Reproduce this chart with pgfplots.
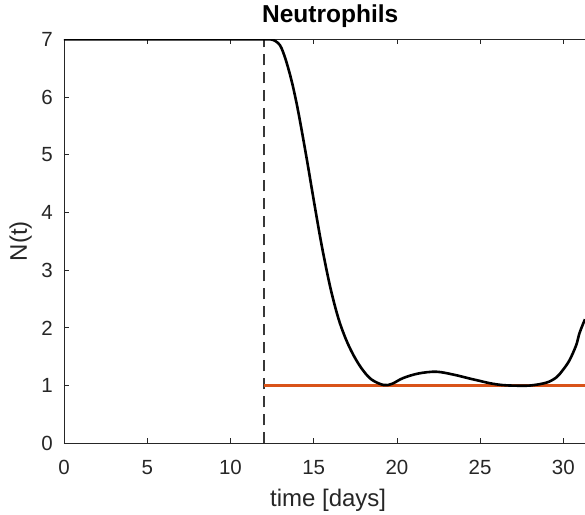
\documentclass[border=0pt]{standalone}
\usepackage{pgfplots}
\pgfplotsset{compat=1.18}
\usepackage{fontspec}
\setmainfont{Liberation Sans}
\definecolor{axgray}{RGB}{38,38,38}
\definecolor{mlorange}{RGB}{217,83,25}
\definecolor{dashgray}{RGB}{55,55,55}
\begin{document}
\begin{tikzpicture}
\path[use as bounding box] (-64pt,-70.7pt) rectangle (521pt,443.3pt);
\begin{axis}[
  at={(0pt,0pt)}, anchor=south west,
  scale only axis, width=521pt, height=404pt,
  xmin=0, xmax=31.3, ymin=0, ymax=7,
  xtick={0,5,10,15,20,25,30}, ytick={0,1,2,3,4,5,6,7},
  axis y line*=left,
  axis line style={axgray, line width=0.8pt},
  tick style={axgray, line width=0.8pt},
  major tick length=5pt, tick align=inside,
  /pgf/number format/assume math mode=true,
  ticklabel style={font=\fontsize{20.5}{24}\selectfont, text=axgray},
  yticklabel style={inner sep=0pt, anchor=east, xshift=-11pt},
  xticklabel style={inner sep=0pt, anchor=base, yshift=-30.7pt},
  title={Neutrophils},
  title style={at={(0.511,1)}, anchor=base, yshift=11pt, inner sep=0pt, font=\fontsize{24.5}{28}\selectfont\bfseries, text=black},
  xlabel={time [days]},
  xlabel style={at={(0.507,0)}, anchor=base, yshift=-63.4pt, inner sep=0pt, font=\fontsize{24}{28}\selectfont, text=axgray},
  ylabel={N(t)},
  ylabel style={at={(-0.083,0.5)}, anchor=center, inner sep=0pt, font=\fontsize{24}{28}\selectfont, text=axgray},
]
\addplot[dashgray, line width=1.9pt, dash pattern=on 11pt off 7pt] coordinates {(12,0) (12,7)};
\addplot[mlorange, line width=2.3pt] coordinates {(12,1) (31.3,1)};
\addplot[black, line width=2.6pt, smooth, tension=0.55] coordinates {
(0,7) (6,7) (12,7) (12.4,7) (12.7,6.97) (12.97,6.90) (13.16,6.78) (13.37,6.60)
(13.7,6.25) (14.07,5.75) (14.57,4.95) (15.07,4.10) (15.5,3.40) (16.0,2.70)
(16.5,2.15) (17.0,1.76) (17.5,1.47) (18.0,1.25) (18.5,1.10)
(19.2,1.01) (19.7,1.03) (20.37,1.13) (21.3,1.21) (22.37,1.24) (23.4,1.19)
(24.4,1.12) (25,1.08) (25.6,1.04) (26.3,1.01) (26.97,1.0) (27.95,1.0)
(28.97,1.05) (29.57,1.14) (29.97,1.27) (30.37,1.44) (30.77,1.70) (30.97,1.91) (31.3,2.15)
};
\end{axis}
\end{tikzpicture}
\end{document}
